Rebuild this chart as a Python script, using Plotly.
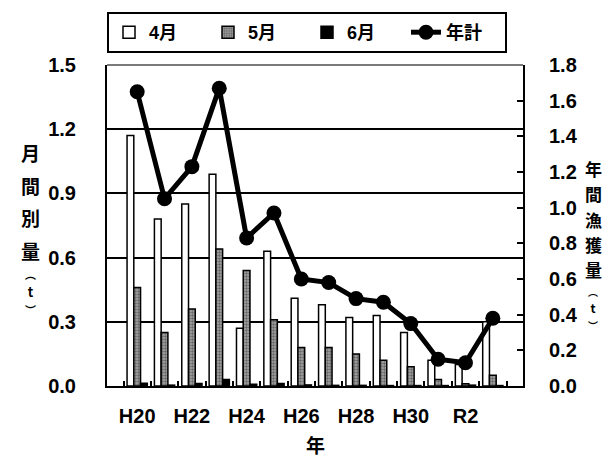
import plotly.graph_objects as go

years = ["H20", "H21", "H22", "H23", "H24", "H25", "H26", "H27", "H28", "H29", "H30", "R1", "R2", "R3"]
tick_text = ["H20", "", "H22", "", "H24", "", "H26", "", "H28", "", "H30", "", "R2", ""]
apr = [1.17, 0.78, 0.85, 0.99, 0.27, 0.63, 0.41, 0.38, 0.32, 0.33, 0.25, 0.12, 0.10, 0.30]
may = [0.46, 0.25, 0.36, 0.64, 0.54, 0.31, 0.18, 0.18, 0.15, 0.12, 0.09, 0.03, 0.01, 0.05]
jun = [0.013, 0.004, 0.012, 0.03, 0.008, 0.012, 0.005, 0.003, 0.003, 0.002, 0.002, 0.002, 0.004, 0.002]
annual = [1.65, 1.05, 1.23, 1.67, 0.83, 0.97, 0.60, 0.58, 0.49, 0.47, 0.35, 0.15, 0.13, 0.38]

W, H = 608, 459
L, R, T, B = 107, 85, 65, 73
PW, PH = W - L - R, H - T - B

def px(x):
    return (x - L) / PW

def py(y):
    return (H - B - y) / PH

FONT = "Liberation Sans, Arial, Noto Sans CJK JP, sans-serif"
CJK = "Noto Sans CJK JP, Liberation Sans, sans-serif"

fig = go.Figure()
fig.add_trace(go.Bar(name="4月", x=years, y=apr, marker=dict(color="white", line=dict(color="black", width=1.5))))
fig.add_trace(go.Bar(name="5月", x=years, y=may,
                     marker=dict(color="#808080", line=dict(color="black", width=1.5),
                                 pattern=dict(shape=".", fgcolor="#262626", bgcolor="#a8a8a8", size=3, solidity=0.5))))
fig.add_trace(go.Bar(name="6月", x=years, y=jun, marker=dict(color="black", line=dict(color="black", width=1.5))))
fig.add_trace(go.Scatter(name="年計", x=years, y=annual, yaxis="y2", mode="lines+markers",
                         line=dict(color="black", width=5), marker=dict(color="black", size=15)))

fig.update_layout(
    width=W, height=H,
    margin=dict(l=L, r=R, t=T, b=B, autoexpand=False),
    paper_bgcolor="white", plot_bgcolor="white",
    barmode="group", bargap=0.26, bargroupgap=0,
    font=dict(family=FONT, size=19, color="black", weight="bold"),
    showlegend=True,
    legend=dict(orientation="h", xref="container", yref="container",
                x=L / W, xanchor="left", y=1 - 12 / H, yanchor="top",
                bordercolor="black", borderwidth=2, bgcolor="white",
                font=dict(family=FONT, size=18, weight="bold"),
                entrywidth=54, traceorder="normal", itemwidth=30),
    xaxis=dict(type="category", tickvals=years, ticktext=tick_text, tickson="boundaries",
               ticks="inside", ticklen=5, tickwidth=1.5, tickcolor="black", tickangle=0,
               showline=True, linecolor="black", linewidth=2, showgrid=False, automargin=False,
               tickfont=dict(family=FONT, size=20, weight="bold"), ticklabelstandoff=11),
    yaxis=dict(range=[0, 1.5], dtick=0.3, tickformat=".1f", showgrid=True, gridcolor="black",
               gridwidth=2, showline=True, linecolor="black", linewidth=2, ticks="",
               zeroline=False, automargin=False, tickfont=dict(family=FONT, size=20, weight="bold"),
               ticklabelstandoff=25),
    yaxis2=dict(range=[0, 1.8], dtick=0.2, tickformat=".1f", overlaying="y", side="right",
                showgrid=False, showline=True, linecolor="black", linewidth=2, automargin=False,
                ticks="inside", ticklen=6, tickwidth=1.5, tickcolor="black", zeroline=False,
                tickfont=dict(family=FONT, size=20, weight="bold"), ticklabelstandoff=20),
)

fig.add_shape(type="line", xref="paper", yref="paper", x0=0, x1=1, y0=1, y1=1,
              line=dict(color="#7a7a7a", width=2))

left_main = ["月", "間", "別", "量"]
right_main = ["年", "間", "漁", "獲", "量"]
unit = ["︵", "t", "︶"]

def stack(chars, size):
    return "<br>".join('<span style="font-size:%dpx">%s</span>' % (size, c) for c in chars)

def unit_text(paren_size, t_size):
    return "<br>".join('<span style="font-size:%dpx">%s</span>' % (t_size if c == "t" else paren_size, c)
                       for c in unit)

# left title: main characters (wide spacing) + unit block (tight spacing)
fig.add_annotation(text=stack(left_main, 19), xref="paper", yref="paper", x=px(30), y=py(201),
                   showarrow=False, xanchor="center", yanchor="middle", borderpad=0,
                   font=dict(family=CJK, size=25, weight="bold"))
fig.add_annotation(text=unit_text(11, 13), xref="paper", yref="paper", x=px(30), y=py(292),
                   showarrow=False, xanchor="center", yanchor="middle", borderpad=0,
                   font=dict(family=CJK, size=14, weight="bold"))
# right title
fig.add_annotation(text=stack(right_main, 17), xref="paper", yref="paper", x=px(593), y=py(219),
                   showarrow=False, xanchor="center", yanchor="middle", borderpad=0,
                   font=dict(family=CJK, size=19.5, weight="bold"))
fig.add_annotation(text=unit_text(10, 12), xref="paper", yref="paper", x=px(593), y=py(308),
                   showarrow=False, xanchor="center", yanchor="middle", borderpad=0,
                   font=dict(family=CJK, size=13, weight="bold"))
fig.add_annotation(text="年", xref="paper", yref="paper", x=px(315), y=py(444), showarrow=False,
                   xanchor="center", yanchor="middle", font=dict(family=CJK, size=19, weight="bold"))

fig.write_html("out.html", config={"displayModeBar": False},
               post_script="document.body.style.margin='0';document.body.style.overflow='hidden';")
